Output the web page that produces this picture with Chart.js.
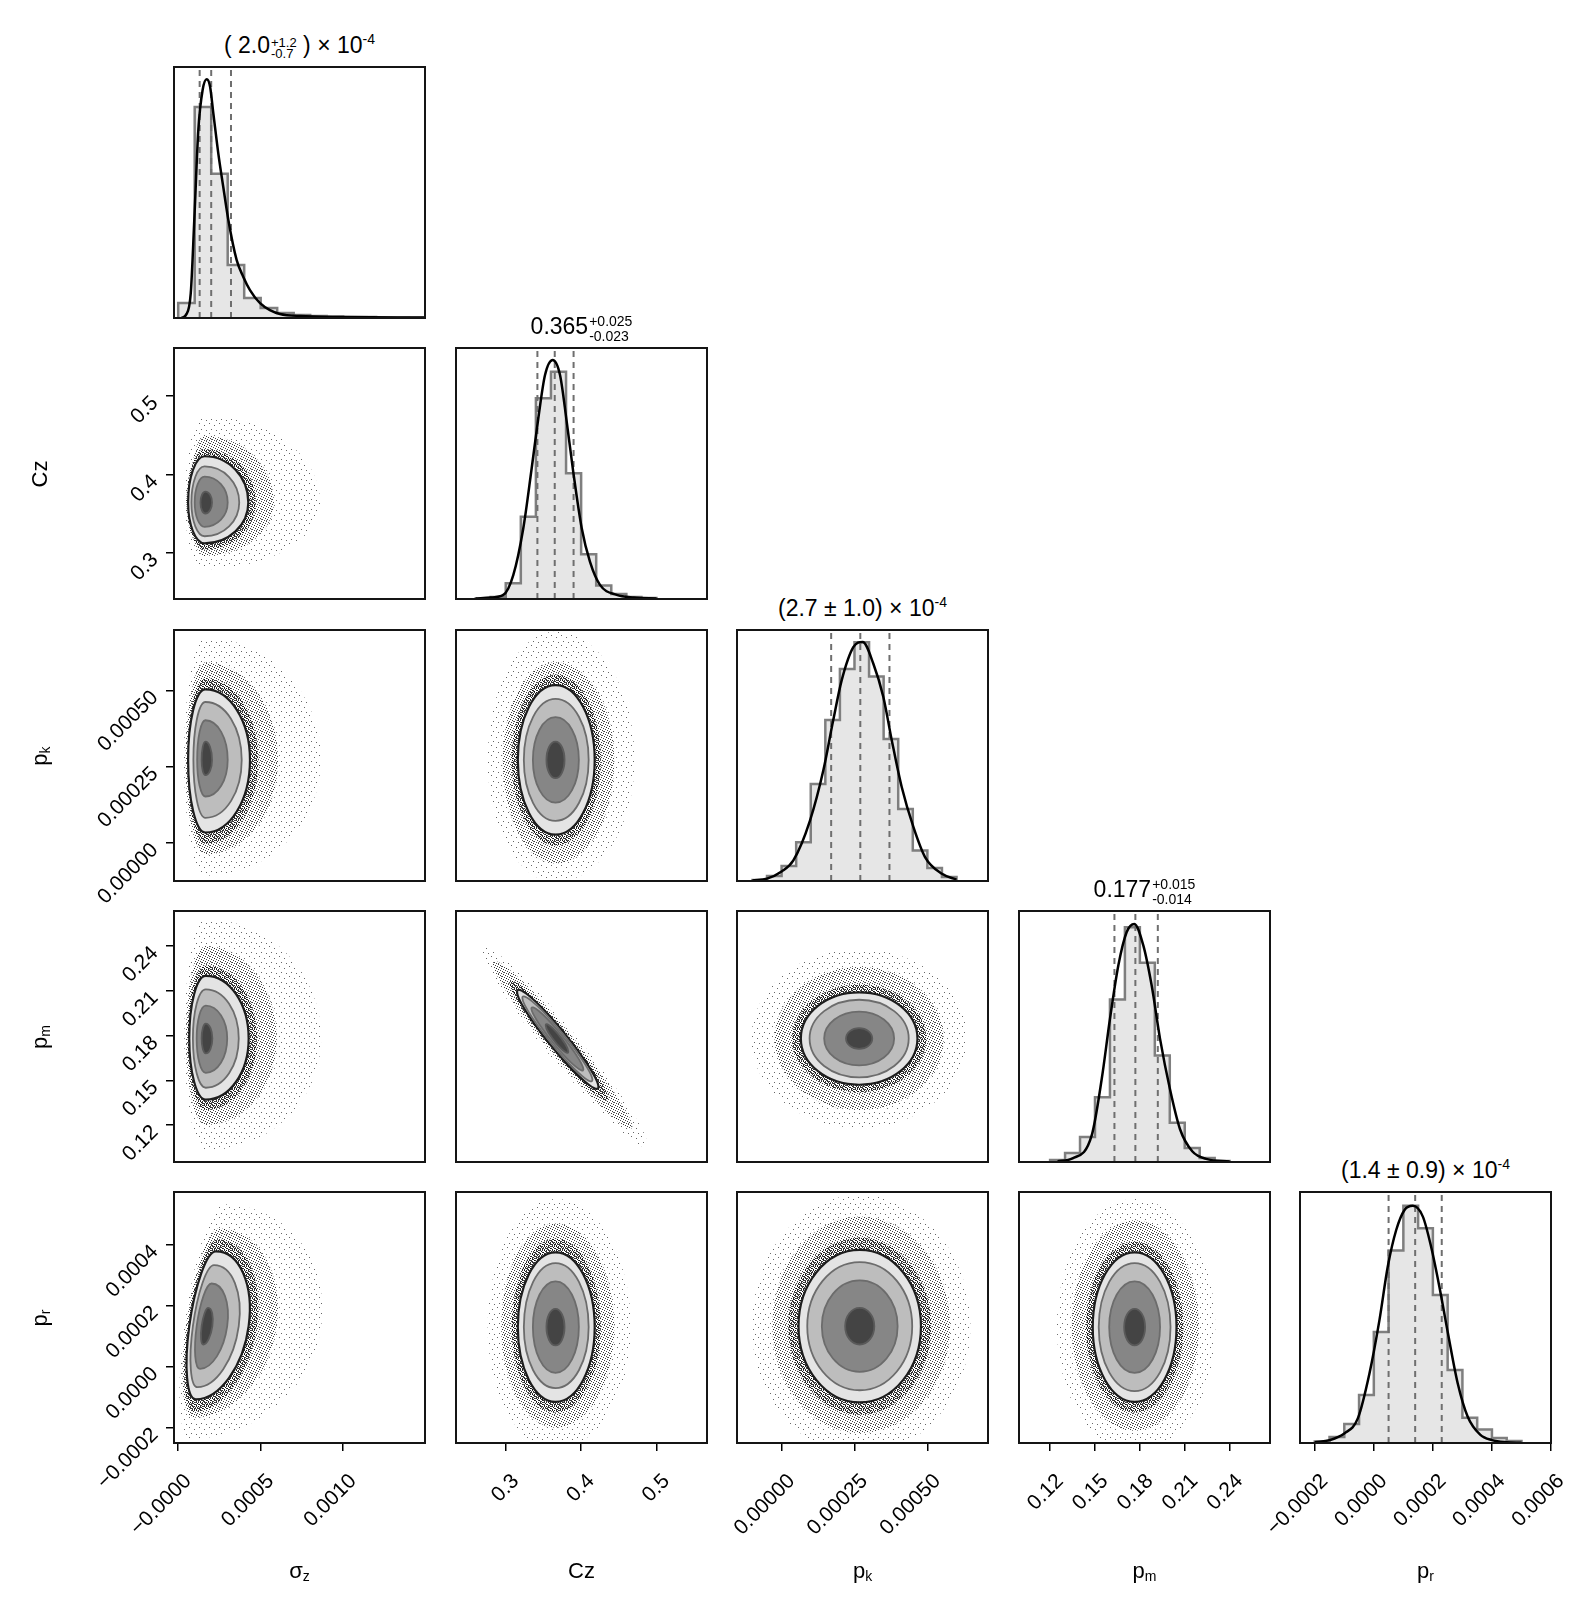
<!DOCTYPE html>
<html>
<head>
<meta charset="utf-8">
<title>Corner plot</title>
<script src="https://cdn.jsdelivr.net/npm/chart.js@4.4.1/dist/chart.umd.min.js"></script>
<style>
  body { margin: 0; background: #fff; }
  #grid { position: relative; width: 1578px; height: 1613px; overflow: hidden; font-family: 'Liberation Sans', Arial, sans-serif; color: #000; }
  #grid canvas { position: absolute; }
  .title { position: absolute; width: 251px; text-align: center; font-size: 23px; line-height: 26px; white-space: nowrap; }
  .ss { display: inline-flex; flex-direction: column; font-size: 14px; line-height: 15px; vertical-align: 8px; text-align: left; margin-left: 1px; }
  .ss.small { font-size: 13px; line-height: 11px; vertical-align: 6px; }
  .title sup { font-size: 14px; vertical-align: 9px; line-height: 0; }
  .xlab { position: absolute; width: 251px; text-align: center; font-size: 22px; line-height: 28px; }
  .ylab { position: absolute; font-size: 22px; line-height: 28px; transform: translate(-50%, -50%) rotate(-90deg); white-space: nowrap; }
  .xlab sub, .ylab sub { font-size: 14px; vertical-align: -3px; line-height: 0; }
</style>
</head>
<body>
<div id="grid"></div>
<script>
//Posição dos painéis na página
const panelLeft = [174, 456, 737, 1019, 1300];
const panelTop = [67, 348, 630, 911, 1192];
const SIZE = 251;

//Limites dos eixos por coluna (x) e por linha (y)
const xRange = [[-0.0000255, 0.001496], [0.234, 0.567], [-0.000153, 0.000708], [0.0992, 0.267], [-0.00025, 0.0006]];
const yRange = [null, [0.241, 0.561], [-0.000125, 0.000698], [0.0952, 0.2635], [-0.00025, 0.000573]];

//Marcas dos eixos
const sigmaTicks = [0, 0.0005, 0.001];
const sigmaTickLabels = ['−0.0000', '0.0005', '0.0010'];
const czTicks = [0.3, 0.4, 0.5];
const czTickLabels = ['0.3', '0.4', '0.5'];
const pkTicks = [0, 0.00025, 0.0005];
const pkTickLabels = ['0.00000', '0.00025', '0.00050'];
const pmTicks = [0.12, 0.15, 0.18, 0.21, 0.24];
const pmTickLabels = ['0.12', '0.15', '0.18', '0.21', '0.24'];
const prTicks = [-0.0002, 0, 0.0002, 0.0004, 0.0006];
const prTickLabels = ['−0.0002', '0.0000', '0.0002', '0.0004', '0.0006'];

//Histogramas (bordas das classes e alturas relativas)
const sigmaEdges = [0, 0.0001, 0.0002, 0.0003, 0.0004, 0.0005, 0.0006, 0.0007, 0.0008, 0.0009, 0.001, 0.0011, 0.0012, 0.0013, 0.0014, 0.0015];
const sigmaCounts = [6.3, 88.3, 60.3, 22.2, 8.4, 4.2, 2.1, 1.3, 0.8, 0.6, 0.4, 0.4, 0.2, 0.2, 0.1];
const czEdges = [0.26, 0.28, 0.30, 0.32, 0.34, 0.36, 0.38, 0.40, 0.42, 0.44, 0.46, 0.48, 0.50];
const czCounts = [0.2, 0.8, 6.6, 34.4, 84, 95.1, 52.6, 18.7, 5.6, 2.1, 0.8, 0.4];
const pkEdges = [-0.0001, -0.00005, 0, 0.00005, 0.0001, 0.00015, 0.0002, 0.00025, 0.0003, 0.00035, 0.0004, 0.00045, 0.0005, 0.00055, 0.0006];
const pkCounts = [0.4, 2.1, 6.3, 16.2, 40.6, 67.4, 88.7, 99.9, 85.6, 59.4, 30.1, 12.8, 5.4, 1.7];
const pmEdges = [0.12, 0.13, 0.14, 0.15, 0.16, 0.17, 0.18, 0.19, 0.20, 0.21, 0.22, 0.23, 0.24];
const pmCounts = [0.8, 3.8, 10.5, 27.1, 68, 98.2, 83.3, 44.6, 16.4, 5.9, 1.7, 0.4];
const prEdges = [-0.0002, -0.00015, -0.0001, -0.00005, 0, 0.00005, 0.0001, 0.00015, 0.0002, 0.00025, 0.0003, 0.00035, 0.0004, 0.00045, 0.0005];
const prCounts = [0.6, 2.5, 7.9, 20.1, 46.4, 80.5, 99.2, 89.8, 61.9, 30.5, 10.6, 5.6, 2.1, 0.8];

//Curvas de densidade
const sigmaKdeX = [0.00002, 0.000047, 0.000076, 0.0000975, 0.000122, 0.000148, 0.000173, 0.000193, 0.000213, 0.000243, 0.000273, 0.000304, 0.000354, 0.000394, 0.000435, 0.000496, 0.000556, 0.000617, 0.000738, 0.001, 0.0015];
const sigmaKdeY = [0, 1.3, 10.3, 41, 78.7, 95.4, 99.9, 96.8, 85.6, 68.9, 54.9, 41, 24.3, 17.3, 11.7, 6.2, 3.3, 1.7, 0.8, 0.4, 0.2];
const czKdeX = [0.26, 0.28, 0.2968, 0.310, 0.3233, 0.3344, 0.3432, 0.3521, 0.3623, 0.372, 0.3809, 0.3896, 0.4008, 0.4118, 0.425, 0.4472, 0.47, 0.50];
const czKdeY = [0.2, 0.6, 1.7, 10, 29.6, 54.7, 75.6, 93.7, 100, 93.7, 74.1, 53.1, 29.6, 15.5, 5.9, 1.7, 0.6, 0.2];
const pkKdeX = [-0.0001, -0.00005, 0, 0.0000403, 0.0000974, 0.000143, 0.000177, 0.000206, 0.000246, 0.000278, 0.000315, 0.000349, 0.000378, 0.000412, 0.000452, 0.000492, 0.00055, 0.0006];
const pkKdeY = [0.2, 1, 4, 8.6, 25.3, 46.2, 67.2, 83.9, 97.8, 100, 90.8, 77, 58.8, 39.3, 22.6, 10, 3, 0.6];
const pmKdeX = [0.125, 0.135, 0.1478, 0.1545, 0.1600, 0.1656, 0.1712, 0.1763, 0.1823, 0.1879, 0.1935, 0.2001, 0.2068, 0.215, 0.225, 0.24];
const pmKdeY = [0.3, 1.5, 11.1, 34.7, 59.8, 82.2, 96.2, 99.6, 90.6, 73.8, 51.5, 30.5, 13.8, 4.5, 1.2, 0.2];
const prKdeX = [-0.0002, -0.00015, -0.0001, -0.0000542, -0.0000146, 0.0000192, 0.0000473, 0.0000758, 0.000104, 0.000132, 0.000166, 0.000194, 0.000222, 0.000251, 0.000284, 0.000318, 0.00036, 0.0004, 0.00045, 0.0005];
const prKdeY = [0.3, 1.2, 4, 10.3, 29.2, 51.5, 73.8, 89.1, 97.5, 99.2, 94.7, 82.1, 65.4, 45.9, 25, 11, 3.5, 1.2, 0.3, 0.1];

//Quantis (16%, 50%, 84%)
const sigmaQuant = [0.00013, 0.0002, 0.00032];
const czQuant = [0.342, 0.365, 0.39];
const pkQuant = [0.00017, 0.00027, 0.00037];
const pmQuant = [0.163, 0.177, 0.192];
const prQuant = [0.00005, 0.00014, 0.00023];

//Contornos 2D: [cx, cy, esquerda, direita, baixo, cima, inclinação x, inclinação y]
//ordem: nuvem esparsa, nuvem densa, halo, nível 1 ... nível 4
const czVsSigma = [
  [0.00016, 0.364, 0.00012, 0.0007, 0.085, 0.11, 0, 0],
  [0.00016, 0.364, 0.00009, 0.00042, 0.068, 0.085, 0, 0],
  [0.00016, 0.364, 0.00011, 0.00031, 0.06, 0.068, 0, 0],
  [0.00016, 0.364, 0.0001, 0.000265, 0.052, 0.059, 0, 0],
  [0.00016, 0.364, 0.00008, 0.00021, 0.043, 0.046, 0, 0],
  [0.00016, 0.364, 0.00006, 0.00014, 0.031, 0.033, 0, 0],
  [0.000165, 0.364, 0.00003, 0.00004, 0.014, 0.014, 0, 0]
];
const pkVsSigma = [
  [0.000165, 0.000272, 0.00013, 0.0007, 0.00038, 0.0004, 0, 0],
  [0.000165, 0.000272, 0.00012, 0.00044, 0.00031, 0.00032, 0, 0],
  [0.000165, 0.000272, 0.00011, 0.00032, 0.000275, 0.000268, 0, 0],
  [0.000165, 0.000272, 0.000105, 0.00027, 0.000238, 0.000231, 0, 0],
  [0.000165, 0.000272, 0.000073, 0.00022, 0.00019, 0.00019, 0, 0],
  [0.000165, 0.000272, 0.00005, 0.000135, 0.00012, 0.00013, 0, 0],
  [0.000165, 0.000272, 0.000023, 0.00004, 0.00005, 0.00006, 0, 0]
];
const pmVsSigma = [
  [0.000167, 0.178, 0.00013, 0.0007, 0.075, 0.08, 0, 0],
  [0.000167, 0.178, 0.00012, 0.00043, 0.058, 0.062, 0, 0],
  [0.000167, 0.178, 0.00011, 0.00031, 0.048, 0.049, 0, 0],
  [0.000167, 0.178, 0.0001, 0.00026, 0.041, 0.042, 0, 0],
  [0.000167, 0.178, 0.000078, 0.0002, 0.033, 0.033, 0, 0],
  [0.000167, 0.178, 0.000055, 0.00013, 0.023, 0.022, 0, 0],
  [0.000167, 0.178, 0.000025, 0.00004, 0.01, 0.01, 0, 0]
];
const prVsSigma = [
  [0.000167, 0.000133, 0.00013, 0.0007, 0.00037, 0.0004, 0.25, 0],
  [0.000167, 0.000133, 0.00012, 0.00043, 0.0003, 0.00032, 0.25, 0],
  [0.000167, 0.000133, 0.00011, 0.00031, 0.00028, 0.000285, 0.25, 0],
  [0.000167, 0.000133, 0.0001, 0.00026, 0.00024, 0.000245, 0.25, 0],
  [0.000167, 0.000133, 0.000078, 0.0002, 0.0002, 0.0002, 0.25, 0],
  [0.000167, 0.000133, 0.000055, 0.00013, 0.00014, 0.00014, 0.25, 0],
  [0.000167, 0.000133, 0.000025, 0.00004, 0.00006, 0.00006, 0.25, 0]
];
const pkVsCz = [
  [0.366, 0.000272, 0.09, 0.105, 0.0004, 0.00042, 0, 0],
  [0.366, 0.000272, 0.07, 0.078, 0.00034, 0.00032, 0, 0],
  [0.366, 0.000272, 0.058, 0.06, 0.00028, 0.00028, 0, 0],
  [0.366, 0.000272, 0.05, 0.052, 0.000245, 0.000245, 0, 0],
  [0.366, 0.000272, 0.042, 0.044, 0.0002, 0.0002, 0, 0],
  [0.366, 0.000272, 0.03, 0.031, 0.00014, 0.00014, 0, 0],
  [0.366, 0.000272, 0.012, 0.012, 0.00006, 0.00006, 0, 0]
];
const pmVsCz = [
  [0.368, 0.178, 0.1, 0.12, 0.017, 0.017, 0, -0.59],
  [0.368, 0.178, 0.085, 0.1, 0.0135, 0.0135, 0, -0.59],
  [0.368, 0.178, 0.063, 0.068, 0.011, 0.011, 0, -0.59],
  [0.368, 0.178, 0.053, 0.055, 0.0095, 0.0095, 0, -0.59],
  [0.368, 0.178, 0.046, 0.047, 0.0078, 0.0078, 0, -0.59],
  [0.368, 0.178, 0.034, 0.035, 0.006, 0.006, 0, -0.59],
  [0.368, 0.178, 0.015, 0.015, 0.0038, 0.0038, 0, -0.59]
];
const pmVsPk = [
  [0.000266, 0.178, 0.00037, 0.00037, 0.06, 0.06, 0, 0],
  [0.000266, 0.178, 0.00029, 0.00029, 0.048, 0.048, 0, 0],
  [0.000266, 0.178, 0.00023, 0.00023, 0.036, 0.036, 0, 0],
  [0.000266, 0.178, 0.0002, 0.0002, 0.031, 0.031, 0, 0],
  [0.000266, 0.178, 0.00017, 0.00017, 0.026, 0.026, 0, 0],
  [0.000266, 0.178, 0.00012, 0.00012, 0.018, 0.018, 0, 0],
  [0.000266, 0.178, 0.000045, 0.000045, 0.007, 0.007, 0, 0]
];
const prVsCz = [
  [0.366, 0.00013, 0.09, 0.1, 0.0004, 0.00042, 0, 0],
  [0.366, 0.00013, 0.072, 0.078, 0.00033, 0.00034, 0, 0],
  [0.366, 0.00013, 0.058, 0.06, 0.00028, 0.00029, 0, 0],
  [0.366, 0.00013, 0.05, 0.052, 0.000245, 0.000245, 0, 0],
  [0.366, 0.00013, 0.042, 0.044, 0.0002, 0.00021, 0, 0],
  [0.366, 0.00013, 0.03, 0.031, 0.00015, 0.00015, 0, 0],
  [0.366, 0.00013, 0.012, 0.012, 0.00006, 0.00006, 0, 0]
];
const prVsPk = [
  [0.000268, 0.000133, 0.00037, 0.00038, 0.00042, 0.00043, 0, 0],
  [0.000268, 0.000133, 0.0003, 0.00031, 0.00035, 0.00036, 0, 0],
  [0.000268, 0.000133, 0.000245, 0.000245, 0.00029, 0.00029, 0, 0],
  [0.000268, 0.000133, 0.00021, 0.00021, 0.00025, 0.00025, 0, 0],
  [0.000268, 0.000133, 0.00018, 0.00018, 0.00021, 0.00021, 0, 0],
  [0.000268, 0.000133, 0.00013, 0.00013, 0.00015, 0.00015, 0, 0],
  [0.000268, 0.000133, 0.00005, 0.00005, 0.00006, 0.00006, 0, 0]
];
const prVsPm = [
  [0.1765, 0.00013, 0.052, 0.054, 0.00041, 0.00042, 0, 0],
  [0.1765, 0.00013, 0.042, 0.043, 0.00034, 0.00035, 0, 0],
  [0.1765, 0.00013, 0.0325, 0.0325, 0.00028, 0.00028, 0, 0],
  [0.1765, 0.00013, 0.028, 0.028, 0.000245, 0.000245, 0, 0],
  [0.1765, 0.00013, 0.024, 0.024, 0.00021, 0.00021, 0, 0],
  [0.1765, 0.00013, 0.017, 0.017, 0.00015, 0.00015, 0, 0],
  [0.1765, 0.00013, 0.007, 0.007, 0.00006, 0.00006, 0, 0]
];

//Textos
const titles = [
  '( 2.0<span class="ss small"><span>+1.2</span><span>-0.7</span></span> ) × 10<sup>-4</sup>',
  '0.365<span class="ss"><span>+0.025</span><span>-0.023</span></span>',
  '(2.7 ± 1.0) × 10<sup>-4</sup>',
  '0.177<span class="ss"><span>+0.015</span><span>-0.014</span></span>',
  '(1.4 ± 0.9) × 10<sup>-4</sup>'
];
const axisNames = ['σ<sub>z</sub>', 'Cz', 'p<sub>k</sub>', 'p<sub>m</sub>', 'p<sub>r</sub>'];

//ESTILOS
Chart.defaults.font.family = "'Liberation Sans', Arial, sans-serif";
Chart.defaults.color = '#000';
const contourLine = [null, null, null, '#1e1e1e', '#6c6c6c', '#6c6c6c', '#5a5a5a'];
const contourFill = [null, null, null, '#e4e4e4', '#bdbdbd', '#868686', '#444444'];

function dotTile(w, h, dots, alpha) {
  const c = document.createElement('canvas');
  c.width = w; c.height = h;
  const g = c.getContext('2d');
  g.fillStyle = 'rgba(0,0,0,' + alpha + ')';
  dots.forEach(d => g.fillRect(d[0], d[1], 1, 1));
  return c;
}
const sparseTile = dotTile(10, 10, [[1, 1], [6, 3], [3, 7], [8, 8]], 0.6);
const denseTile = dotTile(5, 5, [[0, 0], [2, 1], [4, 2], [1, 3], [3, 4]], 0.75);
const ringTile = dotTile(4, 4, [[0, 0], [2, 0], [1, 1], [3, 2], [0, 3], [2, 2]], 0.8);

//Caminho de um contorno: quatro quartos de elipse ao redor do centro
function blobPath(ctx, xs, ys, r) {
  const [cx, cy, left, right, down, up, sx, sy] = r;
  const c = [xs.getPixelForValue(cx), ys.getPixelForValue(cy)];
  const vec = (vx, vy) => [xs.getPixelForValue(vx) - c[0], ys.getPixelForValue(vy) - c[1]];
  const R = vec(cx + right, cy + right * sy);
  const U = vec(cx + up * sx, cy + up);
  const L = vec(cx - left, cy - left * sy);
  const D = vec(cx - down * sx, cy - down);
  ctx.beginPath();
  [[R, U], [U, L], [L, D], [D, R]].forEach(q => {
    ctx.save();
    ctx.transform(q[0][0], q[0][1], q[1][0], q[1][1], c[0], c[1]);
    ctx.arc(0, 0, 1, 0, Math.PI / 2);
    ctx.restore();
  });
  ctx.closePath();
}

function cornerPlugin(contours) {
  return {
    id: 'corner',
    beforeDatasetsDraw(chart) {
      if (!contours) return;
      const ctx = chart.ctx, a = chart.chartArea;
      const xs = chart.scales.x, ys = chart.scales.y;
      const fills = [
        ctx.createPattern(sparseTile, 'repeat'),
        ctx.createPattern(denseTile, 'repeat'),
        ctx.createPattern(ringTile, 'repeat')
      ].concat(contourFill.slice(3));
      ctx.save();
      ctx.beginPath();
      ctx.rect(a.left, a.top, a.right - a.left, a.bottom - a.top);
      ctx.clip();
      contours.forEach((row, i) => {
        blobPath(ctx, xs, ys, row);
        ctx.fillStyle = fills[i];
        ctx.fill();
      });
      contours.forEach((row, i) => {
        if (!contourLine[i]) return;
        blobPath(ctx, xs, ys, row);
        ctx.strokeStyle = contourLine[i];
        ctx.lineWidth = i === 3 ? 2.2 : 1.8;
        ctx.stroke();
      });
      ctx.restore();
    },
    afterDraw(chart) {
      const ctx = chart.ctx, a = chart.chartArea;
      ctx.save();
      ctx.strokeStyle = '#151515';
      ctx.lineWidth = 2;
      ctx.strokeRect(a.left, a.top, a.right - a.left, a.bottom - a.top);
      ctx.restore();
    }
  };
}

function axisOptions(range, ticks, labels, shown, horizontal, thickness) {
  const list = ticks.map((v, i) => ({ v: v, l: labels[i] }))
    .filter(t => t.v >= range[0] - 1e-12 && t.v <= range[1] + 1e-12);
  return {
    type: 'linear',
    min: range[0],
    max: range[1],
    display: shown,
    afterBuildTicks: s => { s.ticks = list.map(t => ({ value: t.v })); },
    afterFit: s => {
      if (horizontal) s.height = thickness; else s.width = thickness;
      s.paddingLeft = 0; s.paddingRight = 0; s.paddingTop = 0; s.paddingBottom = 0;
    },
    ticks: {
      autoSkip: false, minRotation: 45, maxRotation: 45,
      padding: horizontal ? 18 : 11,
      labelOffset: horizontal ? 10 : 4,
      color: '#000',
      font: { size: 21 },
      callback: (v, i) => (list[i] ? list[i].l : '')
    },
    grid: { drawOnChartArea: false, drawTicks: true, tickLength: 8, color: '#000', lineWidth: 1.5 },
    border: { display: false }
  };
}

function zip(xsArr, ysArr) {
  return xsArr.map((x, i) => ({ x: x, y: ysArr[i] }));
}

//Conjuntos de dados de um painel da diagonal
function histDatasets(edges, counts, kdeX, kdeY, quant) {
  const step = [{ x: edges[0], y: 0 }];
  counts.forEach((c, i) => step.push({ x: edges[i], y: c }));
  step.push({ x: edges[edges.length - 1], y: 0 });
  const sets = [{
    data: step, stepped: 'before', fill: 'origin', backgroundColor: '#e6e6e6',
    borderColor: '#7f7f7f', borderWidth: 2.5, pointRadius: 0, order: 3
  }];
  quant.forEach(q => sets.push({
    data: [{ x: q, y: 0 }, { x: q, y: 105 }], borderColor: '#6f6f6f', borderWidth: 2,
    borderDash: [6, 5], pointRadius: 0, fill: false, order: 2
  }));
  sets.push({
    data: zip(kdeX, kdeY), borderColor: '#000', borderWidth: 2.5, pointRadius: 0,
    tension: 0.4, cubicInterpolationMode: 'monotone', fill: false, order: 1
  });
  return sets;
}

const colTicks = [[sigmaTicks, sigmaTickLabels], [czTicks, czTickLabels], [pkTicks, pkTickLabels], [pmTicks, pmTickLabels], [prTicks, prTickLabels]];
const grid = document.getElementById('grid');

function makePanel(col, row, datasets, contours) {
  const showX = row === 4;
  const showY = col === 0 && row > 0;
  const xAxisH = showX ? 120 : 0;
  const yAxisW = showY ? 140 : 0;
  const pad = { left: showX && !showY ? 100 : 6, right: showX ? 26 : 6, top: 6, bottom: showY && !showX ? 70 : 6 };
  const w = SIZE + pad.left + pad.right + yAxisW;
  const h = SIZE + pad.top + pad.bottom + xAxisH;
  const canvas = document.createElement('canvas');
  canvas.width = w; canvas.height = h;
  canvas.style.width = w + 'px'; canvas.style.height = h + 'px';
  canvas.style.left = (panelLeft[col] - pad.left - yAxisW) + 'px';
  canvas.style.top = (panelTop[row] - pad.top) + 'px';
  grid.appendChild(canvas);

  const diag = col === row;
  const yOpts = diag
    ? axisOptions([0, 105], [], [], false, false, 0)
    : axisOptions(yRange[row], colTicks[row][0], colTicks[row][1], showY, false, yAxisW);

  new Chart(canvas, {
    type: 'line',
    data: { datasets: datasets },
    options: {
      responsive: false,
      animation: false,
      events: [],
      layout: { padding: pad },
      plugins: { legend: { display: false }, tooltip: { enabled: false } },
      scales: {
        x: axisOptions(xRange[col], colTicks[col][0], colTicks[col][1], showX, true, xAxisH),
        y: yOpts
      }
    },
    plugins: [cornerPlugin(contours)]
  });
}

//Diagonal
makePanel(0, 0, histDatasets(sigmaEdges, sigmaCounts, sigmaKdeX, sigmaKdeY, sigmaQuant), null);
makePanel(1, 1, histDatasets(czEdges, czCounts, czKdeX, czKdeY, czQuant), null);
makePanel(2, 2, histDatasets(pkEdges, pkCounts, pkKdeX, pkKdeY, pkQuant), null);
makePanel(3, 3, histDatasets(pmEdges, pmCounts, pmKdeX, pmKdeY, pmQuant), null);
makePanel(4, 4, histDatasets(prEdges, prCounts, prKdeX, prKdeY, prQuant), null);

//Painéis 2D
makePanel(0, 1, [], czVsSigma);
makePanel(0, 2, [], pkVsSigma);
makePanel(1, 2, [], pkVsCz);
makePanel(0, 3, [], pmVsSigma);
makePanel(1, 3, [], pmVsCz);
makePanel(2, 3, [], pmVsPk);
makePanel(0, 4, [], prVsSigma);
makePanel(1, 4, [], prVsCz);
makePanel(2, 4, [], prVsPk);
makePanel(3, 4, [], prVsPm);

//Títulos e nomes dos eixos
titles.forEach((t, i) => {
  const d = document.createElement('div');
  d.className = 'title';
  d.style.left = panelLeft[i] + 'px';
  d.style.top = (panelTop[i] - 35) + 'px';
  d.innerHTML = t;
  grid.appendChild(d);
});
axisNames.forEach((t, i) => {
  const d = document.createElement('div');
  d.className = 'xlab';
  d.style.left = panelLeft[i] + 'px';
  d.style.top = '1557px';
  d.innerHTML = t;
  grid.appendChild(d);
  if (i > 0) {
    const e = document.createElement('div');
    e.className = 'ylab';
    e.style.left = '40px';
    e.style.top = (panelTop[i] + SIZE / 2) + 'px';
    e.innerHTML = t;
    grid.appendChild(e);
  }
});
</script>
</body>
</html>
